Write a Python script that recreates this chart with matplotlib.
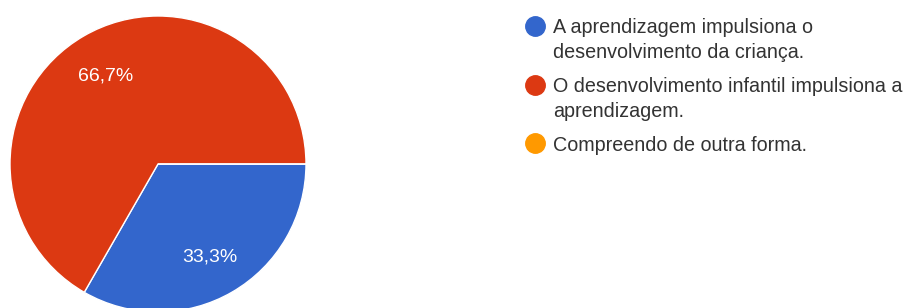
import matplotlib
matplotlib.use("Agg")
import matplotlib.pyplot as plt
import numpy as np

categories = ["A aprendizagem impulsiona o\ndesenvolvimento da criança.",
              "O desenvolvimento infantil impulsiona a\naprendizagem.",
              "Compreendo de outra forma."]
percentages = [33.3, 66.7, 0.0]
pct_labels = ["33,3%", "66,7%", ""]
colors = ["#3366CC", "#DC3912", "#FF9900"]

W, H, DPI = 905, 308, 100
plt.rcParams['font.family'] = ['Liberation Sans', 'DejaVu Sans']
fig = plt.figure(figsize=(W / DPI, H / DPI), dpi=DPI)

# pie axes: center (158,164) px, radius 148 px
cx, cy, r = 158, 164, 148
ax = fig.add_axes([(cx - r) / W, (H - cy - r) / H, 2 * r / W, 2 * r / H])
wedges, texts = ax.pie(percentages, colors=colors, startangle=0, counterclock=False,
                       radius=1, wedgeprops=dict(edgecolor="white", linewidth=1))
for w, lab in zip(wedges, pct_labels):
    if not lab:
        continue
    ang = np.deg2rad((w.theta1 + w.theta2) / 2)
    ax.text(0.706 * np.cos(ang), 0.706 * np.sin(ang) - 7.0 / r, lab, color="white",
            fontsize=14, ha="center", va="baseline")
ax.set_xlim(-1, 1)
ax.set_ylim(-1, 1)
ax.set_aspect("equal")
ax.axis("off")

# legend (pixel layout)
first_baselines = [33, 92, 151]
line_step = 25
for lab, col, yb in zip(categories, colors, first_baselines):
    fig.add_artist(plt.Line2D([535 / W], [1 - (yb - 7.5) / H], marker="o", markersize=14,
                              color=col, linestyle="none", transform=fig.transFigure))
    for k, line in enumerate(lab.split("\n")):
        fig.text(553 / W, 1 - (yb + k * line_step) / H, line, fontsize=14.2,
                 color="#333333", ha="left", va="baseline")

fig.savefig("out.png", dpi=DPI, facecolor="white")
